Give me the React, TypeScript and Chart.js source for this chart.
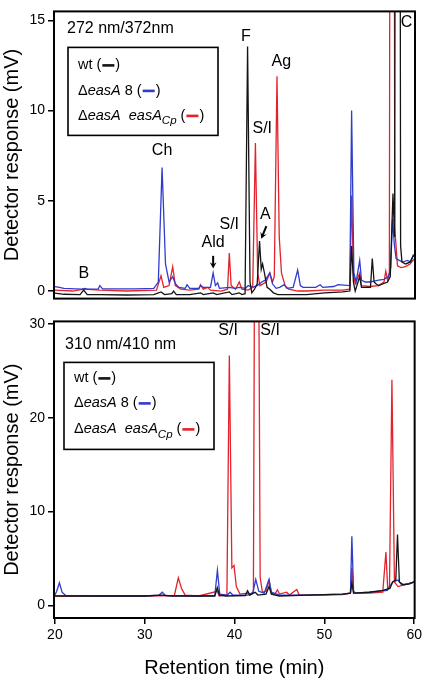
import React, { useEffect, useRef } from "react";
import { Chart, registerables } from "chart.js";

Chart.register(...registerables);

const FONT = "'Liberation Sans', Arial, Helvetica, sans-serif";
const BLACK = "#141414";
const BLUE = "#2f3ccc";
const RED = "#e3222b";

// ---------- axis ticks ----------
const xTicks = [20, 30, 40, 50, 60];
const topYTicks = [0, 5, 10, 15];
const bottomYTicks = [0, 10, 20, 30];

// ---------- panel titles ----------
const topPanelTitle = "272 nm/372nm";
const bottomPanelTitle = "310 nm/410 nm";

// ---------- top panel (272/372 nm): [retention time, mV] ----------
const topWt: number[][] = [
  [20, -0.12], [21, -0.18], [22.8, -0.2], [23.2, 0.05], [23.6, -0.2], [25, -0.2], [28, -0.22],
  [31, -0.2], [31.8, -0.05], [32.2, -0.2], [33, -0.15], [33.2, 0.0], [33.5, -0.2], [35, -0.2],
  [36.2, -0.1], [36.5, -0.2], [37.6, -0.1], [38, -0.2], [39.4, -0.05], [39.7, -0.2], [40.5, -0.1],
  [40.8, -0.2], [41.15, -0.15], [41.43, 13.56], [41.7, 0.5], [41.9, -0.1], [42.2, 0.1], [42.5, 0.4],
  [42.76, 2.77], [42.95, 1.2], [43.1, 1.5], [43.3, 1.0], [43.6, 0.2], [43.9, 0.1], [44.3, -0.1],
  [44.8, -0.2], [46, -0.2], [48, -0.2], [50, -0.1], [52, -0.05], [52.8, 0.0], [53.0, 2.5],
  [53.2, 0.5], [53.4, 0.0], [53.9, 0.8], [54.1, 0.2], [54.5, 0.2], [55.1, 0.2], [55.3, 1.8],
  [55.5, 0.5], [55.7, 0.4], [56, 0.3], [57, 0.5], [57.3, 0.8], [57.6, 5.4], [57.78, 3.0],
  [57.95, 60], [58.3, 60], [58.45, 2.5], [58.6, 1.6], [59, 1.5], [59.5, 1.6], [59.8, 1.9], [60, 2.0],
];
const topEasA8: number[][] = [
  [20, 0.25], [20.5, 0.2], [21, 0.15], [23, 0.1], [23.3, 0.15], [23.6, 0.1], [24.8, 0.1], [25.0, 0.3],
  [25.3, 0.12], [27, 0.12], [29, 0.12], [31.0, 0.15], [31.5, 0.5], [31.92, 6.84], [32.3, 1.5],
  [32.7, 0.5], [33.1, 0.8], [33.4, 0.4], [33.8, 0.2], [34.5, 0.15], [34.7, 0.35], [35.0, 0.15],
  [36, 0.15], [36.2, 0.3], [36.5, 0.2], [37.3, 0.2], [37.6, 1.0], [37.85, 0.3], [38.1, 0.45],
  [38.3, 0.15], [39.4, 0.2], [40, 0.15], [40.5, 0.2], [41.2, 0.15], [41.5, 0.3], [42, 0.2],
  [42.5, 0.3], [43.0, 0.5], [43.4, 0.6], [43.9, 1.0], [44.2, 0.4], [44.6, 0.15], [45, 0.2],
  [45.5, 0.35], [45.8, 0.15], [46.5, 0.2], [47.0, 1.16], [47.3, 0.3], [47.6, 0.2], [49, 0.2],
  [49.5, 0.35], [49.8, 0.2], [51, 0.25], [51.5, 0.35], [52.8, 0.3], [53.0, 10.0], [53.25, 1.0],
  [53.5, 0.5], [53.9, 1.7], [54.1, 0.6], [54.5, 0.5], [55, 0.5], [55.5, 0.55], [56, 0.6],
  [56.6, 0.65], [57.1, 0.8], [57.35, 1.3], [57.55, 4.0], [57.75, 2.6], [57.95, 1.8], [58.3, 1.7],
  [58.7, 1.6], [59.2, 1.7], [59.6, 1.6], [59.85, 2.0], [60, 1.95],
];
const topEasACp: number[][] = [
  [20, 0.05], [22, 0.0], [23.2, 0.1], [25, 0.05], [28, 0.0], [31.3, 0.05], [31.8, 0.85], [32.1, 0.2],
  [32.7, 0.3], [33.1, 1.35], [33.4, 0.3], [34, 0.1], [35, 0.05], [36.0, 0.1], [36.2, 0.35],
  [36.5, 0.1], [37.0, 0.2], [37.3, 0.05], [38.5, 0.0], [39.2, 0.1], [39.4, 2.1], [39.6, 0.3],
  [40.1, 0.1], [40.5, 0.5], [40.8, 0.1], [41.5, 0.05], [42.0, 0.2], [42.3, 8.2], [42.55, 1.0],
  [42.8, 0.3], [43.5, 0.5], [43.9, 1.0], [44.2, 0.5], [44.4, 0.8], [44.7, 11.9], [44.95, 3.0],
  [45.2, 1.0], [45.6, 0.3], [46, 0.1], [47, 0.0], [48, 0.0], [50, 0.05], [52, 0.05], [52.8, 0.1],
  [53.0, 5.3], [53.2, 1.0], [53.4, 0.4], [53.9, 1.0], [54.1, 0.3], [55, 0.25], [56, 0.3],
  [56.6, 0.5], [56.8, 1.1], [57.0, 0.6], [57.2, 1.0], [57.35, 60], [57.65, 60], [57.8, 3.5],
  [58.1, 1.4], [58.5, 1.3], [59, 1.35], [59.5, 1.5], [60, 1.8],
];

// ---------- bottom panel (310/410 nm) ----------
const botWt: number[][] = [
  [20, 1.0], [25, 1.0], [30, 1.0], [31.9, 1.1], [33, 1.0], [36, 1.0], [37.8, 1.0], [38.08, 1.9],
  [38.3, 1.1], [39, 1.0], [41.2, 1.05], [41.45, 1.56], [41.7, 1.1], [42.3, 1.4], [42.6, 1.1],
  [43.5, 1.2], [43.84, 2.0], [44.1, 1.2], [45, 1.0], [48, 1.1], [52, 1.2], [52.9, 1.3],
  [53.06, 2.4], [53.25, 1.3], [55, 1.4], [56.5, 1.6], [57.3, 1.8], [57.6, 2.5], [57.95, 2.7],
  [58.14, 7.55], [58.35, 2.5], [58.8, 2.2], [59.5, 2.3], [60, 2.5],
];
const botEasA8: number[][] = [
  [20, 1.1], [20.2, 1.5], [20.5, 2.4], [20.8, 1.4], [21.2, 1.05], [25, 1.0], [30, 1.0], [31.6, 1.1],
  [31.95, 1.4], [32.3, 1.05], [36, 1.0], [37.8, 1.05], [38.09, 3.74], [38.35, 1.2], [39.2, 1.1],
  [39.5, 1.4], [39.8, 1.1], [41.5, 1.1], [42.05, 1.4], [42.36, 2.77], [42.7, 1.5], [43.3, 1.3],
  [43.84, 2.77], [44.1, 1.4], [45, 1.1], [48, 1.1], [52, 1.2], [52.9, 1.3], [53.06, 7.37],
  [53.25, 1.5], [53.5, 1.3], [55, 1.4], [56, 1.5], [57, 1.6], [57.6, 2.5], [58.2, 2.7],
  [58.6, 2.2], [59.3, 2.3], [60, 2.5],
];
const botEasACp: number[][] = [
  [20, 1.0], [25, 1.0], [30, 1.0], [33.3, 1.05], [33.74, 2.94], [34.1, 1.8], [34.5, 1.1], [36, 1.0],
  [38.08, 1.5], [38.3, 1.0], [39.15, 1.1], [39.42, 26.65], [39.7, 4.0], [39.94, 4.26], [40.2, 2.0],
  [40.6, 1.2], [41.45, 1.3], [41.7, 1.1], [42.1, 1.3], [42.25, 45], [42.65, 45], [42.85, 3.0],
  [43.1, 1.4], [43.5, 1.5], [43.84, 2.6], [44.1, 1.3], [44.5, 1.2], [44.77, 1.66], [45, 1.2],
  [45.8, 1.4], [46.1, 1.1], [46.93, 1.7], [47.2, 1.1], [50, 1.1], [52, 1.15], [52.9, 1.3],
  [53.06, 4.0], [53.25, 1.3], [55, 1.3], [56.5, 1.4], [56.85, 5.7], [57.05, 1.8], [57.25, 2.0],
  [57.52, 24.06], [57.8, 2.5], [58.2, 2.0], [59, 2.2], [60, 2.5],
];

// ---------- peak annotations (text, time, mV) ----------
const topLabelText = ["F", "Ag", "S/I", "Ch", "S/I", "Ald", "A", "B", "C"];
const topLabelT = [41.25, 45.18, 43.06, 31.92, 39.39, 37.6, 43.4, 23.23, 59.1];
const topLabelV = [14.1, 12.69, 9.03, 7.78, 3.71, 2.66, 4.23, 0.94, 14.88];
// arrows: [t from, v from, t to, v to]
const topArrows: number[][] = [
  [37.6, 1.95, 37.6, 1.25],
  [43.52, 3.6, 42.95, 2.9],
];
const botLabelText = ["S/I", "S/I"];
const botLabelT = [39.28, 43.96];
const botLabelV = [29.3, 29.3];

type Seg = { t?: string; it?: boolean; sub?: boolean; line?: string };
const legendRows: Seg[][] = [
  [{ t: "wt (" }, { line: BLACK }, { t: ")" }],
  [{ t: "Δ" }, { t: "easA", it: true }, { t: " 8 (" }, { line: BLUE }, { t: ")" }],
  [{ t: "Δ" }, { t: "easA  easA", it: true }, { t: "Cp", it: true, sub: true }, { t: " (" }, { line: RED }, { t: ")" }],
];

const toXY = (arr: number[][]) => arr.map(([x, y]) => ({ x, y }));

type Extra = {
  title: string;
  titleDx: number;
  titleDy: number;
  legendDx: number;
  legendDy: number;
  legendW: number;
  legendH: number;
  rowDy: number[];
  labelText: string[];
  labelT: number[];
  labelV: number[];
  arrows: number[][];
};

const decorPlugin = {
  id: "decor",
  afterDraw(chart: any, _a: any, opts: Extra) {
    const { ctx, chartArea: ca, scales } = chart;
    const xs = scales.x;
    const ys = scales.y;
    ctx.save();
    // frame
    ctx.strokeStyle = "#000";
    ctx.lineWidth = 2;
    ctx.strokeRect(ca.left, ca.top, ca.right - ca.left, ca.bottom - ca.top);

    ctx.fillStyle = "#000";
    ctx.textBaseline = "middle";
    // panel title
    ctx.font = `16px ${FONT}`;
    ctx.textAlign = "left";
    ctx.fillText(opts.title, ca.left + opts.titleDx, ca.top + opts.titleDy);

    // legend box
    const bx = ca.left + opts.legendDx;
    const by = ca.top + opts.legendDy;
    ctx.lineWidth = 1.6;
    ctx.strokeRect(bx, by, opts.legendW, opts.legendH);
    legendRows.forEach((row, i) => {
      let x = bx + 10;
      const y = by + opts.rowDy[i];
      row.forEach((s) => {
        if (s.line) {
          x += 1;
          ctx.strokeStyle = s.line;
          ctx.lineWidth = 2.6;
          ctx.beginPath();
          ctx.moveTo(x, y);
          ctx.lineTo(x + 12, y);
          ctx.stroke();
          x += 13;
          return;
        }
        const size = s.sub ? 11.5 : 14.5;
        ctx.font = `${s.it ? "italic " : ""}${size}px ${FONT}`;
        ctx.fillStyle = "#000";
        ctx.fillText(s.t!, x, s.sub ? y + 5 : y);
        x += ctx.measureText(s.t!).width;
      });
    });

    // peak labels
    ctx.font = `16px ${FONT}`;
    ctx.textAlign = "center";
    ctx.fillStyle = "#000";
    opts.labelText.forEach((txt, i) => {
      ctx.fillText(txt, xs.getPixelForValue(opts.labelT[i]), ys.getPixelForValue(opts.labelV[i]));
    });

    // arrows
    opts.arrows.forEach(([t1, v1, t2, v2]) => {
      const x1 = xs.getPixelForValue(t1);
      const y1 = ys.getPixelForValue(v1);
      const x2 = xs.getPixelForValue(t2);
      const y2 = ys.getPixelForValue(v2);
      const ang = Math.atan2(y2 - y1, x2 - x1);
      ctx.strokeStyle = "#000";
      ctx.lineWidth = 2;
      ctx.beginPath();
      ctx.moveTo(x1, y1);
      ctx.lineTo(x2 - 3 * Math.cos(ang), y2 - 3 * Math.sin(ang));
      ctx.stroke();
      const h = 7;
      ctx.beginPath();
      ctx.moveTo(x2, y2);
      ctx.lineTo(x2 - h * Math.cos(ang - 0.5), y2 - h * Math.sin(ang - 0.5));
      ctx.lineTo(x2 - h * 0.55 * Math.cos(ang), y2 - h * 0.55 * Math.sin(ang));
      ctx.lineTo(x2 - h * Math.cos(ang + 0.5), y2 - h * Math.sin(ang + 0.5));
      ctx.closePath();
      ctx.fill();
    });
    ctx.restore();
  },
};

function makeDatasets(wt: number[][], a8: number[][], cp: number[][]) {
  const common = { pointRadius: 0, borderWidth: 1.3, tension: 0, fill: false };
  return [
    { label: "wt", data: toXY(wt), borderColor: BLACK, ...common },
    { label: "ΔeasA 8", data: toXY(a8), borderColor: BLUE, ...common },
    { label: "ΔeasA easACp", data: toXY(cp), borderColor: RED, ...common },
  ];
}

function yScale(min: number, max: number, ticks: number[]) {
  return {
    type: "linear",
    min,
    max,
    afterFit: (s: any) => {
      s.width = 54;
    },
    afterBuildTicks: (s: any) => {
      s.ticks = ticks.map((v) => ({ value: v }));
    },
    ticks: { color: "#000", font: { family: FONT, size: 14 }, padding: 3 },
    grid: { drawOnChartArea: false, drawTicks: true, tickLength: 6, color: "#000", lineWidth: 1.5 },
    border: { display: false },
    title: {
      display: true,
      text: "Detector response (mV)",
      color: "#000",
      font: { family: FONT, size: 20 },
      padding: { top: 0, bottom: 0 },
    },
  };
}

export default function App() {
  const topRef = useRef<HTMLCanvasElement>(null);
  const botRef = useRef<HTMLCanvasElement>(null);

  useEffect(() => {
    const top = new Chart(topRef.current!, {
      type: "line",
      data: { datasets: makeDatasets(topWt, topEasA8, topEasACp) as any },
      plugins: [decorPlugin],
      options: {
        animation: false,
        responsive: false,
        devicePixelRatio: 1,
        parsing: false as any,
        layout: { padding: { top: 2, right: 10, bottom: 3, left: 0 } },
        plugins: {
          legend: { display: false },
          tooltip: { enabled: false },
          decor: {
            title: topPanelTitle,
            titleDx: 13,
            titleDy: 17,
            legendDx: 14,
            legendDy: 36,
            legendW: 150,
            legendH: 88,
            rowDy: [18, 43.5, 68.5],
            labelText: topLabelText,
            labelT: topLabelT,
            labelV: topLabelV,
            arrows: topArrows,
          },
        } as any,
        scales: {
          x: { type: "linear", min: 19.9, max: 60.05, display: false },
          y: yScale(-0.42, 15.5, topYTicks) as any,
        },
      },
    });

    const bot = new Chart(botRef.current!, {
      type: "line",
      data: { datasets: makeDatasets(botWt, botEasA8, botEasACp) as any },
      plugins: [decorPlugin],
      options: {
        animation: false,
        responsive: false,
        devicePixelRatio: 1,
        parsing: false as any,
        layout: { padding: { top: 3, right: 10, bottom: 0, left: 0 } },
        plugins: {
          legend: { display: false },
          tooltip: { enabled: false },
          decor: {
            title: bottomPanelTitle,
            titleDx: 11,
            titleDy: 23,
            legendDx: 10,
            legendDy: 41,
            legendW: 150,
            legendH: 87,
            rowDy: [16, 41, 67],
            labelText: botLabelText,
            labelT: botLabelT,
            labelV: botLabelV,
            arrows: [],
          },
        } as any,
        scales: {
          x: {
            type: "linear",
            min: 19.9,
            max: 60.05,
            afterFit: (s: any) => {
              s.height = 63;
            },
            afterBuildTicks: (s: any) => {
              s.ticks = xTicks.map((v) => ({ value: v }));
            },
            ticks: { color: "#000", font: { family: FONT, size: 14 }, padding: 3, maxRotation: 0 },
            grid: { drawOnChartArea: false, drawTicks: true, tickLength: 6, color: "#000", lineWidth: 1.5 },
            border: { display: false },
            title: {
              display: true,
              text: "Retention time (min)",
              color: "#000",
              font: { family: FONT, size: 20 },
              padding: { top: 0, bottom: 1 },
            },
          } as any,
          y: yScale(-1.35, 30.3, bottomYTicks) as any,
        },
      },
    });

    return () => {
      top.destroy();
      bot.destroy();
    };
  }, []);

  return (
    <div style={{ position: "absolute", left: 0, top: 0, width: 425, height: 681, background: "#fff" }}>
      <canvas ref={topRef} width={425} height={310} style={{ position: "absolute", left: 0, top: 0 }} />
      <canvas ref={botRef} width={425} height={371} style={{ position: "absolute", left: 0, top: 310 }} />
    </div>
  );
}
